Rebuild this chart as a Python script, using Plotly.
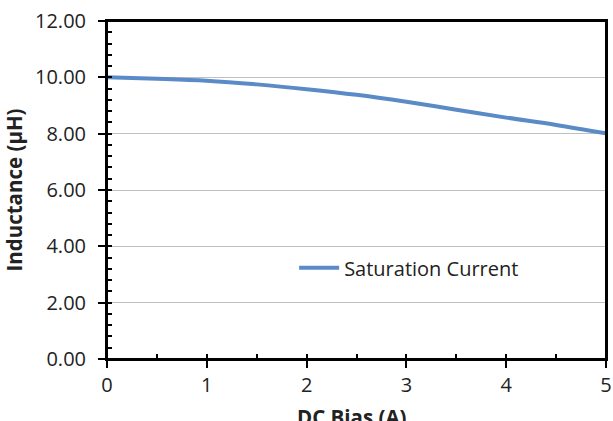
import plotly.graph_objects as go

# DC bias (A) vs inductance (uH)
dc_bias = [0, 0.5, 1, 1.5, 2, 2.5, 3, 3.5, 4, 4.5, 5]
inductance = [10.0, 9.95, 9.88, 9.75, 9.58, 9.38, 9.13, 8.85, 8.57, 8.31, 8.01]
series_name = "Saturation Current"

FONT = "Open Sans"

fig = go.Figure()
fig.add_trace(go.Scatter(
    x=dc_bias, y=inductance, mode="lines", name=series_name,
    line=dict(color="#5B8BC7", width=4, shape="spline"),
    showlegend=True,
))

fig.update_layout(
    width=613, height=421,
    margin=dict(l=107, r=7, t=21, b=62, autoexpand=False),
    paper_bgcolor="white", plot_bgcolor="white",
    font=dict(family=FONT, size=20, color="#222222"),
    showlegend=True,
    legend=dict(x=0.375, y=0.27, xanchor="left", yanchor="middle", itemwidth=40,
                bgcolor="rgba(0,0,0,0)", font=dict(size=20)),
)

fig.update_xaxes(
    range=[0, 5], dtick=1, tickformat="d", automargin=False,
    showline=True, linecolor="black", linewidth=2, mirror=True,
    ticks="outside", ticklen=7, tickwidth=2, tickcolor="black",
    minor=dict(ticks="inside", dtick=0.5, ticklen=5, tickwidth=2, tickcolor="black"),
    showgrid=False, zeroline=False, ticklabeloverflow="allow",
)
fig.update_yaxes(
    range=[0, 12], dtick=2, tickformat=".2f", automargin=False,
    showline=True, linecolor="black", linewidth=2, mirror=True,
    ticks="outside", ticklen=7, tickwidth=2, tickcolor="black", ticklabelstandoff=8,
    ticklabeloverflow="allow",
    minor=dict(ticks="inside", dtick=0.4, ticklen=5, tickwidth=2, tickcolor="black"),
    showgrid=True, gridcolor="#C0C0C0", gridwidth=1, zeroline=False,
    title=dict(text="<b>Inductance (µH)</b>", font=dict(size=20.5), standoff=11),
)

# plot frame (top border goes missing otherwise)
fig.add_shape(type="rect", xref="paper", yref="paper", x0=0, y0=0, x1=1, y1=1,
              line=dict(color="black", width=2), layer="above")

fig.add_annotation(
    text="<b>DC Bias (A)</b>", xref="paper", yref="paper",
    x=0.49, y=-0.125, xanchor="center", yanchor="top",
    showarrow=False, font=dict(size=20.5),
)

# drop the page's default 8px body margin so the figure sits at the window corner
fig.write_html("out.html", config={"displayModeBar": False},
               post_script="document.body.style.margin='0px';")
